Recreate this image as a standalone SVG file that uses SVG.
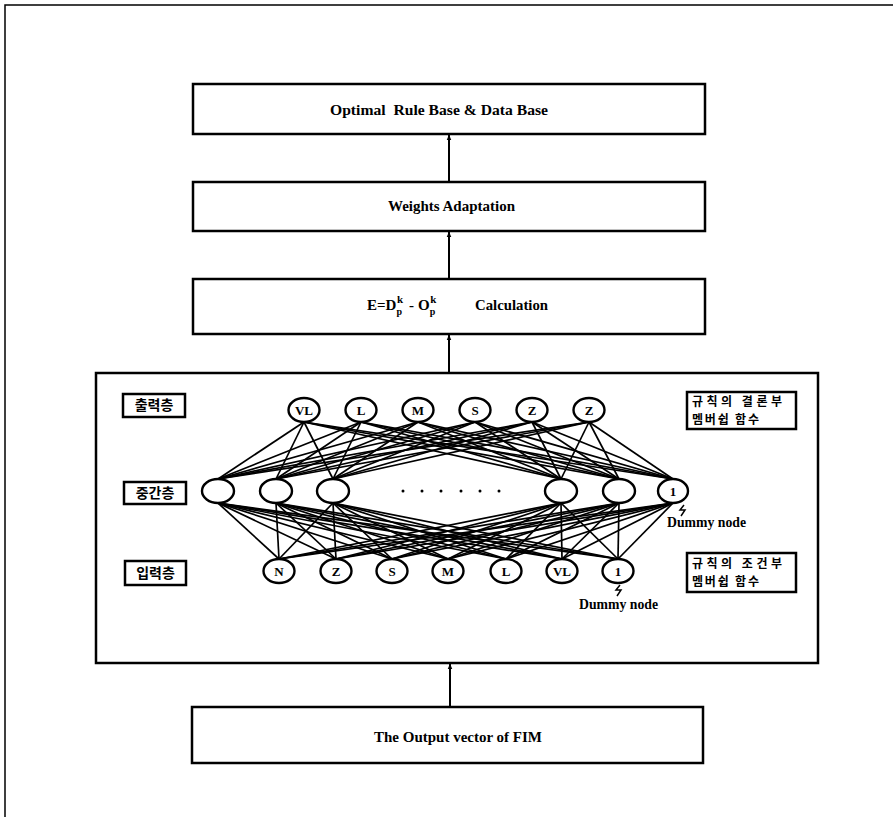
<svg xmlns="http://www.w3.org/2000/svg" width="893" height="817" viewBox="0 0 893 817">
<defs>
<style>
.box{fill:#fff;stroke:#000;stroke-width:2.5}
.t{font-family:"Liberation Serif","Times New Roman",serif;font-weight:bold;font-size:15px;fill:#000}
.nl{font-family:"Liberation Serif","Times New Roman",serif;font-weight:bold;font-size:13px;fill:#000;text-anchor:middle}
.kr{font-family:"Noto Sans CJK KR","Noto Sans",sans-serif;font-weight:bold;font-size:14px;fill:#000}
.kr2{font-family:"Noto Sans CJK KR","Noto Sans",sans-serif;font-weight:bold;font-size:12px;fill:#000}
.node{fill:#fff;stroke:#000;stroke-width:2.4}
.conn line{stroke:#000;stroke-width:1.7}
.arr{stroke:#000;stroke-width:2;fill:none}
.frame{stroke:#000;stroke-width:1.5;fill:none}
</style>
<marker id="ah" viewBox="0 0 10 10" refX="9" refY="5" markerWidth="6" markerHeight="6" markerUnits="userSpaceOnUse" orient="auto">
<path d="M0,1 L10,5 L0,9 Z" fill="#000"/>
</marker>
</defs>
<rect width="893" height="817" fill="#fff"/>
<path class="frame" d="M5,817 L5,5 L893,5"/>

<g id="box-optimal">
<rect class="box" x="193" y="84" width="512" height="50"/>
<text class="t" x="330" y="115" textLength="218" lengthAdjust="spacingAndGlyphs" xml:space="preserve">Optimal  Rule Base &amp; Data Base</text>
</g>
<g id="box-weights">
<rect class="box" x="193" y="182" width="512" height="49"/>
<text class="t" x="388" y="211" textLength="127" lengthAdjust="spacingAndGlyphs">Weights Adaptation</text>
</g>
<g id="box-error">
<rect class="box" x="193" y="279" width="512" height="55"/>
<text class="t" x="367" y="310">E=D<tspan font-size="10" dy="5">p</tspan><tspan font-size="11" dx="-5" dy="-12">k</tspan><tspan dx="6" dy="7">-</tspan><tspan dx="4">O</tspan><tspan font-size="10" dy="5">p</tspan><tspan font-size="11" dx="-5" dy="-12">k</tspan></text>
<text class="t" x="475" y="310" textLength="73" lengthAdjust="spacingAndGlyphs">Calculation</text>
</g>
<g id="box-network">
<rect class="box" x="96" y="373" width="722" height="290"/>
</g>
<g id="box-output-vector">
<rect class="box" x="192" y="707" width="511" height="56"/>
<text class="t" x="374" y="742" textLength="168" lengthAdjust="spacingAndGlyphs">The Output vector of FIM</text>
</g>

<g id="flow-connectors">
<line class="arr" x1="449" y1="182" x2="449" y2="135" marker-end="url(#ah)"/>
<line class="arr" x1="449" y1="279" x2="449" y2="232" marker-end="url(#ah)"/>
<line class="arr" x1="449" y1="373" x2="449" y2="335" marker-end="url(#ah)"/>
<line class="arr" x1="450" y1="707" x2="450" y2="664" marker-end="url(#ah)"/>
</g>

<g id="net-connectors" class="conn">
<line x1="304" y1="422" x2="218" y2="479"/><line x1="304" y1="422" x2="276" y2="479"/><line x1="304" y1="422" x2="333" y2="479"/><line x1="304" y1="422" x2="561" y2="479"/><line x1="304" y1="422" x2="619" y2="479"/><line x1="304" y1="422" x2="673" y2="479"/>
<line x1="361" y1="422" x2="218" y2="479"/><line x1="361" y1="422" x2="276" y2="479"/><line x1="361" y1="422" x2="333" y2="479"/><line x1="361" y1="422" x2="561" y2="479"/><line x1="361" y1="422" x2="619" y2="479"/><line x1="361" y1="422" x2="673" y2="479"/>
<line x1="418" y1="422" x2="218" y2="479"/><line x1="418" y1="422" x2="276" y2="479"/><line x1="418" y1="422" x2="333" y2="479"/><line x1="418" y1="422" x2="561" y2="479"/><line x1="418" y1="422" x2="619" y2="479"/><line x1="418" y1="422" x2="673" y2="479"/>
<line x1="475" y1="422" x2="218" y2="479"/><line x1="475" y1="422" x2="276" y2="479"/><line x1="475" y1="422" x2="333" y2="479"/><line x1="475" y1="422" x2="561" y2="479"/><line x1="475" y1="422" x2="619" y2="479"/><line x1="475" y1="422" x2="673" y2="479"/>
<line x1="532" y1="422" x2="218" y2="479"/><line x1="532" y1="422" x2="276" y2="479"/><line x1="532" y1="422" x2="333" y2="479"/><line x1="532" y1="422" x2="561" y2="479"/><line x1="532" y1="422" x2="619" y2="479"/><line x1="532" y1="422" x2="673" y2="479"/>
<line x1="589" y1="422" x2="218" y2="479"/><line x1="589" y1="422" x2="276" y2="479"/><line x1="589" y1="422" x2="333" y2="479"/><line x1="589" y1="422" x2="561" y2="479"/><line x1="589" y1="422" x2="619" y2="479"/><line x1="589" y1="422" x2="673" y2="479"/>

<line x1="218" y1="503" x2="279" y2="559"/><line x1="218" y1="503" x2="336" y2="559"/><line x1="218" y1="503" x2="392" y2="559"/><line x1="218" y1="503" x2="448" y2="559"/><line x1="218" y1="503" x2="506" y2="559"/><line x1="218" y1="503" x2="562" y2="559"/><line x1="218" y1="503" x2="618" y2="559"/>
<line x1="276" y1="503" x2="279" y2="559"/><line x1="276" y1="503" x2="336" y2="559"/><line x1="276" y1="503" x2="392" y2="559"/><line x1="276" y1="503" x2="448" y2="559"/><line x1="276" y1="503" x2="506" y2="559"/><line x1="276" y1="503" x2="562" y2="559"/><line x1="276" y1="503" x2="618" y2="559"/>
<line x1="333" y1="503" x2="279" y2="559"/><line x1="333" y1="503" x2="336" y2="559"/><line x1="333" y1="503" x2="392" y2="559"/><line x1="333" y1="503" x2="448" y2="559"/><line x1="333" y1="503" x2="506" y2="559"/><line x1="333" y1="503" x2="562" y2="559"/><line x1="333" y1="503" x2="618" y2="559"/>
<line x1="561" y1="503" x2="279" y2="559"/><line x1="561" y1="503" x2="336" y2="559"/><line x1="561" y1="503" x2="392" y2="559"/><line x1="561" y1="503" x2="448" y2="559"/><line x1="561" y1="503" x2="506" y2="559"/><line x1="561" y1="503" x2="562" y2="559"/><line x1="561" y1="503" x2="618" y2="559"/>
<line x1="619" y1="503" x2="279" y2="559"/><line x1="619" y1="503" x2="336" y2="559"/><line x1="619" y1="503" x2="392" y2="559"/><line x1="619" y1="503" x2="448" y2="559"/><line x1="619" y1="503" x2="506" y2="559"/><line x1="619" y1="503" x2="562" y2="559"/><line x1="619" y1="503" x2="618" y2="559"/>
<line x1="673" y1="503" x2="279" y2="559"/><line x1="673" y1="503" x2="336" y2="559"/><line x1="673" y1="503" x2="392" y2="559"/><line x1="673" y1="503" x2="448" y2="559"/><line x1="673" y1="503" x2="506" y2="559"/><line x1="673" y1="503" x2="562" y2="559"/><line x1="673" y1="503" x2="618" y2="559"/>
</g>

<g id="out-VL"><ellipse class="node" cx="304" cy="410" rx="15.5" ry="12"/><text class="nl" x="304" y="415">VL</text></g>
<g id="out-L"><ellipse class="node" cx="361" cy="410" rx="15.5" ry="12"/><text class="nl" x="361" y="415">L</text></g>
<g id="out-M"><ellipse class="node" cx="418" cy="410" rx="15.5" ry="12"/><text class="nl" x="418" y="415">M</text></g>
<g id="out-S"><ellipse class="node" cx="475" cy="410" rx="15.5" ry="12"/><text class="nl" x="475" y="415">S</text></g>
<g id="out-Z1"><ellipse class="node" cx="532" cy="410" rx="15.5" ry="12"/><text class="nl" x="532" y="415">Z</text></g>
<g id="out-Z2"><ellipse class="node" cx="589" cy="410" rx="15.5" ry="12"/><text class="nl" x="589" y="415">Z</text></g>

<g id="hid-1"><ellipse class="node" cx="218" cy="491" rx="16" ry="12"/></g>
<g id="hid-2"><ellipse class="node" cx="276" cy="491" rx="16" ry="12"/></g>
<g id="hid-3"><ellipse class="node" cx="333" cy="491" rx="16" ry="12"/></g>
<g id="hid-dots" fill="#000">
<circle cx="403" cy="491" r="1.5"/><circle cx="422" cy="491" r="1.5"/><circle cx="441" cy="491" r="1.5"/><circle cx="461" cy="491" r="1.5"/><circle cx="480" cy="491" r="1.5"/><circle cx="499" cy="491" r="1.5"/>
</g>
<g id="hid-4"><ellipse class="node" cx="561" cy="491" rx="16" ry="12"/></g>
<g id="hid-5"><ellipse class="node" cx="619" cy="491" rx="16" ry="12"/></g>
<g id="hid-dummy"><ellipse class="node" cx="673" cy="491" rx="15" ry="12"/><text class="nl" x="673" y="496">1</text>
<path d="M684,505 L680,510 L685,510 L681,516" stroke="#000" stroke-width="1.5" fill="none"/>
<text class="t" x="667" y="527" font-size="13.5" textLength="79" lengthAdjust="spacingAndGlyphs">Dummy node</text></g>

<g id="in-N"><ellipse class="node" cx="279" cy="571" rx="15.5" ry="12"/><text class="nl" x="279" y="576">N</text></g>
<g id="in-Z"><ellipse class="node" cx="336" cy="571" rx="15.5" ry="12"/><text class="nl" x="336" y="576">Z</text></g>
<g id="in-S"><ellipse class="node" cx="392" cy="571" rx="15.5" ry="12"/><text class="nl" x="392" y="576">S</text></g>
<g id="in-M"><ellipse class="node" cx="448" cy="571" rx="15.5" ry="12"/><text class="nl" x="448" y="576">M</text></g>
<g id="in-L"><ellipse class="node" cx="506" cy="571" rx="15.5" ry="12"/><text class="nl" x="506" y="576">L</text></g>
<g id="in-VL"><ellipse class="node" cx="562" cy="571" rx="15.5" ry="12"/><text class="nl" x="562" y="576">VL</text></g>
<g id="in-dummy"><ellipse class="node" cx="618" cy="571" rx="15.5" ry="12"/><text class="nl" x="618" y="576">1</text>
<path d="M620,585 L616,590 L621,590 L617,596" stroke="#000" stroke-width="1.5" fill="none"/>
<text class="t" x="579" y="609" font-size="13.5" textLength="79" lengthAdjust="spacingAndGlyphs">Dummy node</text></g>

<g id="label-output-layer"><rect class="box" x="123" y="394" width="62" height="23"/><text class="kr" x="154" y="410" text-anchor="middle">출력층</text></g>
<g id="label-hidden-layer"><rect class="box" x="124" y="482" width="62" height="22"/><text class="kr" x="155" y="498" text-anchor="middle">중간층</text></g>
<g id="label-input-layer"><rect class="box" x="125" y="561" width="61" height="24"/><text class="kr" x="155.5" y="578" text-anchor="middle">입력층</text></g>

<g id="label-consequent"><rect class="box" x="687" y="392" width="109" height="37"/>
<text class="kr2" x="692" y="406" letter-spacing="3.5">규칙의 결론부</text>
<text class="kr2" x="692" y="424" letter-spacing="1.8">멤버쉽 함수</text></g>
<g id="label-antecedent"><rect class="box" x="687" y="553" width="109" height="39"/>
<text class="kr2" x="692" y="568" letter-spacing="3.5">규칙의 조건부</text>
<text class="kr2" x="692" y="586" letter-spacing="1.8">멤버쉽 함수</text></g>
</svg>
